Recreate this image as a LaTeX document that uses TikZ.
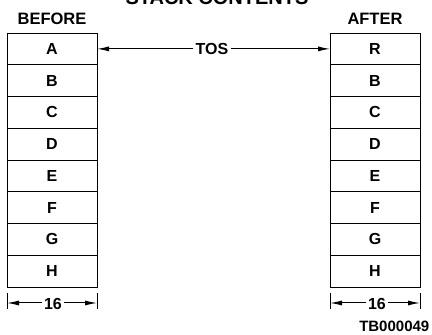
\documentclass[tikz,border=0pt]{standalone}
\usepackage{fontspec}
\setmainfont{Liberation Sans}
\usetikzlibrary{positioning,arrows.meta}
\begin{document}
\begin{tikzpicture}[x=1pt, y=1pt, node distance=0pt,
cell/.style={draw, line width=0.8pt, minimum width=90pt, minimum height=31.75pt, outer sep=0pt, font=\fontsize{16}{16}\selectfont\bfseries},
head/.style={font=\fontsize{16.5}{16.5}\selectfont\bfseries},
dimtext/.style={font=\fontsize{16}{16}\selectfont\bfseries, inner sep=2pt},
tip/.style={-{Latex[length=12pt,width=5pt]}, line width=1pt}]
    \useasboundingbox (0,0) rectangle (432,335);
    \clip (0,0) rectangle (432,335);
    % Title (cut off at the top edge)
    \node (title) [anchor=base, font=\fontsize{20}{20}\selectfont\bfseries] at (217,330) {STACK CONTENTS};
    % Stack before
    \node (A) [cell] at (52,286.125) {A};
    \node (B) [cell, below=of A] {B};
    \node (C) [cell, below=of B] {C};
    \node (D) [cell, below=of C] {D};
    \node (E) [cell, below=of D] {E};
    \node (F) [cell, below=of E] {F};
    \node (G) [cell, below=of F] {G};
    \node (H) [cell, below=of G] {H};
    \node (before) [head, above=5pt of A] {BEFORE};
    % Stack after
    \node (R) [cell] at (375,286.125) {R};
    \node (B2) [cell, below=of R] {B};
    \node (C2) [cell, below=of B2] {C};
    \node (D2) [cell, below=of C2] {D};
    \node (E2) [cell, below=of D2] {E};
    \node (F2) [cell, below=of E2] {F};
    \node (G2) [cell, below=of F2] {G};
    \node (H2) [cell, below=of G2] {H};
    \node (after) [head, above=5pt of R] {AFTER};
    % Top of stack pointer
    \node (TOS) [dimtext] at (212,286.125) {TOS};
    \draw[tip] (TOS) -- (A.east);
    \draw[tip] (TOS) -- (R.west);
    % Widths
    \coordinate (l1) at (H.west |- 0,32);
    \coordinate (l2) at (H.east |- 0,32);
    \coordinate (r1) at (H2.west |- 0,32);
    \coordinate (r2) at (H2.east |- 0,32);
    \node (w1) [dimtext] at (53,31) {16};
    \node (w2) [dimtext] at (377,31) {16};
    \draw[line width=0.8pt] ([yshift=10pt]l1) -- ([yshift=-6pt]l1);
    \draw[line width=0.8pt] ([yshift=10pt]l2) -- ([yshift=-6pt]l2);
    \draw[line width=0.8pt] ([yshift=10pt]r1) -- ([yshift=-6pt]r1);
    \draw[line width=0.8pt] ([yshift=10pt]r2) -- ([yshift=-6pt]r2);
    \draw[tip] (w1.west |- l1) -- (l1);
    \draw[tip] (w1.east |- l2) -- (l2);
    \draw[tip] (w2.west |- r1) -- (r1);
    \draw[tip] (w2.east |- r2) -- (r2);
    % Figure number
    \node (fig) [anchor=base east, font=\fontsize{15}{15}\selectfont\bfseries, inner sep=0pt] at (429.5,3) {TB000049};
\end{tikzpicture}
\end{document}
